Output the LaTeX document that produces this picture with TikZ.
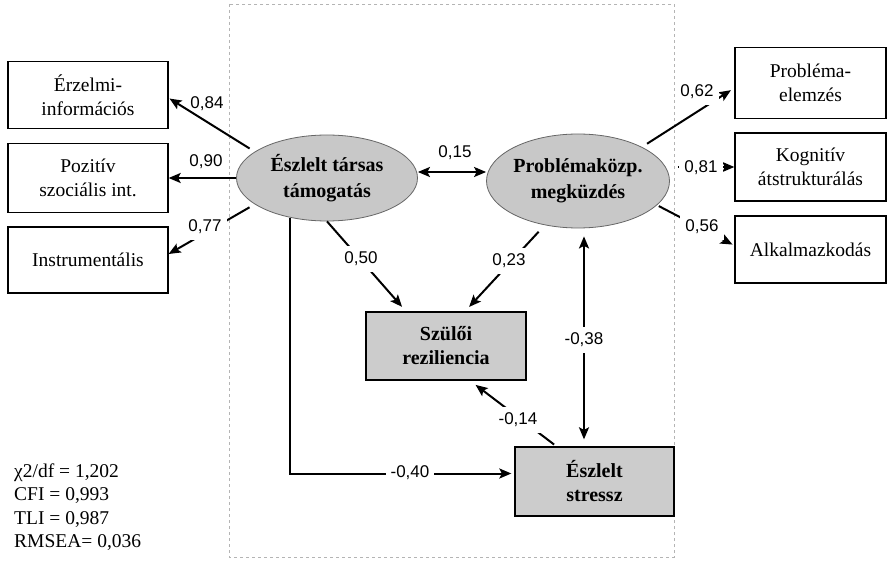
\documentclass[tikz,border=0pt]{standalone}
\usepackage{fontspec}
\setmainfont{Liberation Serif}
\newfontfamily\numfont{Liberation Sans}
\usetikzlibrary{arrows.meta,shapes.geometric,calc}
\definecolor{ellfill}{HTML}{C8C8C8}
\definecolor{boxfill}{HTML}{CCCCCC}
\definecolor{frame}{HTML}{B4B4B4}
\begin{document}
\begin{tikzpicture}[x=1pt,y=-1pt,
  box/.style={draw, line width=1.3pt, minimum width=160pt, align=center, inner sep=0pt,
    font=\fontsize{19.5}{24}\selectfont},
  ell/.style={ellipse, draw=gray!80!black, line width=0.8pt, fill=ellfill, align=center, inner sep=0pt,
    font=\bfseries\fontsize{20}{26}\selectfont},
  gbox/.style={draw, line width=1.3pt, fill=boxfill, align=center, inner sep=0pt,
    font=\bfseries\fontsize{20}{24}\selectfont},
  arr/.style={-{Stealth[length=12pt,width=10pt,inset=2.5pt]}, line width=2pt},
  darr/.style={{Stealth[length=12pt,width=10pt,inset=2.5pt]}-{Stealth[length=12pt,width=10pt,inset=2.5pt]}, line width=2pt},
  lab/.style={font=\numfont\fontsize{17}{17}\selectfont, fill=white, inner xsep=5pt, inner ysep=6pt},
  labfree/.style={font=\numfont\fontsize{17}{17}\selectfont, inner sep=1pt}
]
\useasboundingbox (0,0) rectangle (892,564);
\fill[white] (0,0) rectangle (892,564);
\draw[frame, dashed, line width=0.7pt] (229,4) rectangle (674,557);

% left indicators
\node[box, minimum height=67pt] (e1) at (88,95) {Érzelmi-\\információs};
\node[box, minimum height=69pt] (e2) at (88,178) {Pozitív\\szociális int.};
\node[box, minimum height=66pt] (e3) at (88,260) {Instrumentális};
% right indicators
\node[box, minimum width=151pt, minimum height=71pt] (r1) at (810.5,83) {Probléma-\\elemzés};
\node[box, minimum width=151pt, minimum height=68pt] (r2) at (810.5,167) {Kognitív\\átstrukturálás};
\node[box, minimum width=151pt, minimum height=67pt] (r3) at (810.5,249.5) {Alkalmazkodás};
% latent
\node[ell, minimum width=181pt, minimum height=86pt] (T) at (327,178) {Észlelt társas\\támogatás};
\node[ell, minimum width=183pt, minimum height=94pt] (P) at (578,181) {Problémaközp.\\megküzdés};
% observed
\node[gbox, minimum width=160pt, minimum height=68pt] (S) at (446,346) {Szülői\\reziliencia};
\node[gbox, minimum width=159pt, minimum height=69pt] (St) at (594.5,481.5) {Észlelt\\stressz};

% connectors
\draw[arr, shorten <=6pt, shorten >=1pt] (T.160) -- ([yshift=-3pt]e1.east);
\draw[arr] (T.west) -- (e2.east);
\draw[arr, shorten <=6pt] (T.200) -- ([yshift=6pt]e3.east);
\draw[darr] ([yshift=6pt]T.east) -- ([yshift=9pt]P.west);
\draw[arr, shorten <=6pt, shorten >=4pt] (P.28) -- ([yshift=-5pt]r1.west);
\draw[arr, shorten <=8pt] ([yshift=14pt]P.east) -- (r2.west);
\draw[arr, shorten <=2pt, shorten >=2pt] (P.-17) -- ([yshift=4pt]r3.west);
\draw[arr, shorten >=6pt] (T.south) -- ([xshift=-40pt]S.north);
\draw[arr, shorten <=9pt, shorten >=6pt] (P.233) -- ([xshift=19pt]S.north);
\draw[darr, shorten <=8pt, shorten >=7pt] ([xshift=6pt]P.south) -- ([xshift=-10.5pt]St.north);
\draw[arr, shorten <=3pt, shorten >=7pt] ([xshift=-38pt]St.north) -- ([xshift=24pt]S.south);
\draw[arr, shorten >=3pt] ([shift={(-37,-3)}]T.south) |- ([yshift=8pt]St.west);

% coefficients
\node[labfree] (l84) at (207,104) {0,84};
\node[labfree] (l90) at (206,162) {0,90};
\node[lab] (l77) at (205,227) {0,77};
\node[labfree] (l15) at (455,153) {0,15};
\node[lab] (l62) at (697,92) {0,62};
\node[lab] (l81) at (701,168) {0,81};
\node[lab] (l56) at (702,227) {0,56};
\node[lab] (l50) at (361,259) {0,50};
\node[lab] (l23) at (509,261) {0,23};
\node[lab] (l38) at (584,340) {-0,38};
\node[lab] (l14) at (518,420) {-0,14};
\node[lab] (l40) at (410,473) {-0,40};

% fit indices
\node[anchor=west, align=left, inner sep=0pt, font=\fontsize{19.5}{23.5}\selectfont] (fit) at (14,507)
  {χ2/df = 1,202\\CFI = 0,993\\TLI = 0,987\\RMSEA= 0,036};
\end{tikzpicture}
\end{document}
